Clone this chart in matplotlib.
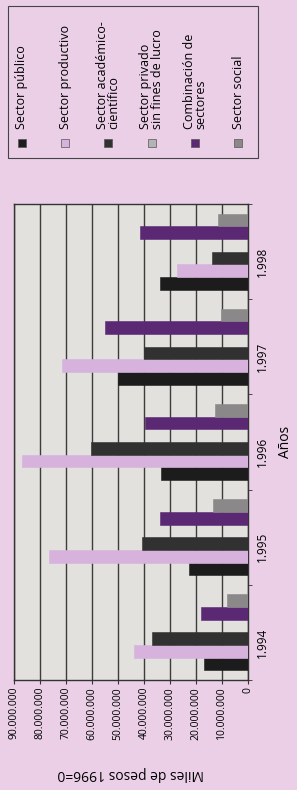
import numpy as np
import matplotlib.pyplot as plt
from matplotlib.patches import Rectangle

plt.rcParams['font.family'] = ['Open Sans', 'DejaVu Sans']

years = ['1.994', '1.995', '1.996', '1.997', '1.998']
sectors = ['Sector público', 'Sector productivo', 'Sector académico-\ncientífico',
           'Sector privado\nsin fines de lucro', 'Combinación de\nsectores', 'Sector social']
colors = ['#1c1c1c', '#d6b2dd', '#323131', '#b3b3b3', '#5b2974', '#8a8888']

# miles de pesos, per sector, 1994..1998
publico = [17.0e6, 22.6e6, 33.4e6, 49.9e6, 33.8e6]
productivo = [43.8e6, 76.4e6, 87.0e6, 71.7e6, 27.4e6]
academico = [36.9e6, 40.8e6, 60.4e6, 40.0e6, 13.9e6]
privado = [0, 0, 0, 0, 0]
combinacion = [18.0e6, 34.0e6, 39.7e6, 55.0e6, 41.7e6]
social = [8.1e6, 13.5e6, 12.7e6, 10.3e6, 11.5e6]
series = [publico, productivo, academico, privado, combinacion, social]

page = '#eacfe7'
W, H = 297, 790

fig = plt.figure(figsize=(W / 100, H / 100), dpi=100)
fig.patch.set_facecolor(page)

ax = fig.add_axes([14 / W, 1 - 680 / H, (248 - 14) / W, (680 - 204) / H])
ax.set_facecolor('#e3e1dd')

y = np.arange(len(years))
h = 0.8 / len(series)
for i, (vals, c) in enumerate(zip(series, colors)):
    ax.barh(y + (i - 2.5) * h, vals, height=h, color=c,
            edgecolor=c, lw=0.4, zorder=3)

ax.set_xlim(90e6, 0)
ax.set_ylim(-0.5, len(years) - 0.5)
ticks = np.arange(0, 90e6 + 1, 10e6)
ax.set_xticks(ticks)
ax.set_xticklabels([f'{int(t):,}'.replace(',', '.') for t in ticks])
ax.grid(axis='x', color='#3c3c3c', lw=1.0, zorder=1)
ax.tick_params(axis='x', labelrotation=90, labelsize=7.5, length=3,
               color='#333', pad=2)

ax.yaxis.tick_right()
ax.set_yticks(y)
ax.set_yticklabels(years)
ax.set_yticks(np.arange(-0.5, len(years)), minor=True)
ax.tick_params(axis='y', which='major', length=0, labelrotation=90,
               labelsize=8.5, pad=6)
ax.tick_params(axis='y', which='minor', length=3, color='#333')
ax.yaxis.set_label_position('right')
ax.set_ylabel('Años', rotation=90, fontsize=10, labelpad=6)
ax.set_xlabel('Miles de pesos 1996=0', rotation=180, fontsize=10, labelpad=19)

for s in ax.spines.values():
    s.set_color('#333')
    s.set_linewidth(1.0)

# legend (drawn by hand so the text can run vertically)
fig.add_artist(Rectangle((8 / W, 1 - 158 / H), 250 / W, 152 / H,
                         transform=fig.transFigure, fill=False,
                         ec='#444', lw=0.8))
lx = np.linspace(22, 238, len(sectors))
for x, name, c in zip(lx, sectors, colors):
    fig.add_artist(Rectangle(((x - 4) / W, 1 - 147 / H), 8 / W, 8 / H,
                             transform=fig.transFigure, fc=c,
                             ec='#555', lw=0.5))
    fig.text(x / W, 1 - 129 / H, name, rotation=90, ha='center',
             va='bottom', multialignment='left', fontsize=9,
             linespacing=0.85)

fig.savefig('out.png', dpi=100, facecolor=page)
